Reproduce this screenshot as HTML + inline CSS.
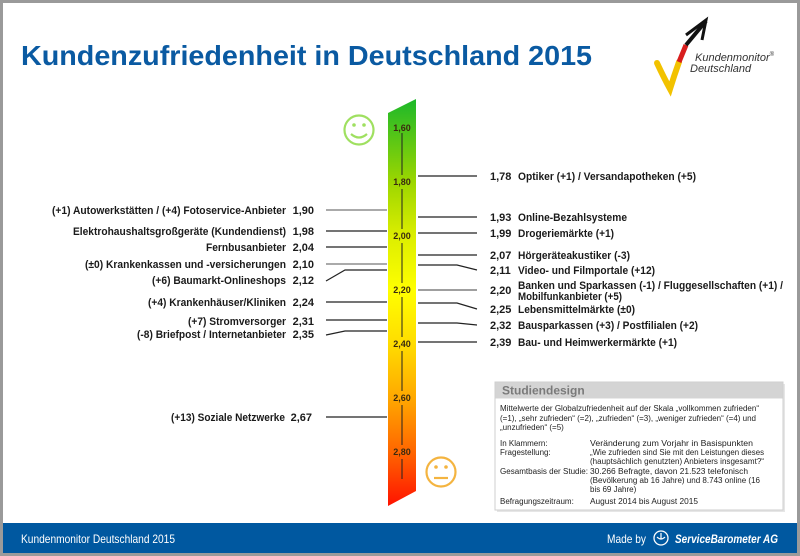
<!DOCTYPE html>
<html><head><meta charset="utf-8"><style>
html,body{margin:0;padding:0;background:#fff;}
svg{display:block;}
text{font-family:"Liberation Sans",Arial,sans-serif;}
.l{font-size:11px;font-weight:bold;fill:#1a1a1a;}
.t{font-size:9px;font-weight:bold;fill:#3a2a10;}
.s{font-size:8px;fill:#222;}
</style></head><body>
<svg width="800" height="556" viewBox="0 0 800 556" xmlns="http://www.w3.org/2000/svg">
<defs>
<linearGradient id="g" gradientUnits="userSpaceOnUse" x1="0" y1="99" x2="0" y2="506">
<stop offset="0" stop-color="#1cb82a"/>
<stop offset="0.204" stop-color="#9cd600"/>
<stop offset="0.337" stop-color="#dcee00"/>
<stop offset="0.469" stop-color="#ffff00"/>
<stop offset="0.602" stop-color="#ffdc00"/>
<stop offset="0.735" stop-color="#ffa800"/>
<stop offset="0.867" stop-color="#ff6600"/>
<stop offset="1" stop-color="#ff1200"/>
</linearGradient>
</defs>
<rect x="0" y="0" width="800" height="556" fill="#9a9a9a"/>
<rect x="3" y="3" width="794" height="550" fill="#fff"/>
<!-- footer -->
<rect x="3" y="523" width="794" height="30" fill="#0058a0"/>
<text x="21" y="543" font-size="12" fill="#fff" textLength="154" lengthAdjust="spacingAndGlyphs">Kundenmonitor Deutschland 2015</text>
<text x="607" y="543" font-size="12" fill="#fff" textLength="39" lengthAdjust="spacingAndGlyphs">Made by</text>
<circle cx="661" cy="538" r="7" fill="none" stroke="#fff" stroke-width="1.3"/>
<path d="M657 537 q4 4 8 0 M661 533 v6" stroke="#fff" stroke-width="1.2" fill="none"/>
<text x="675" y="543" font-size="12" font-weight="bold" font-style="italic" fill="#fff" textLength="103" lengthAdjust="spacingAndGlyphs">ServiceBarometer AG</text>
<!-- title -->
<text x="21" y="65" font-size="28" font-weight="bold" fill="#0a5aa2" textLength="571" lengthAdjust="spacingAndGlyphs">Kundenzufriedenheit in Deutschland 2015</text>
<!-- logo -->
<path d="M657 63 Q664 78 670 89 Q674 76 679 62" stroke="#f2c200" stroke-width="6" fill="none" stroke-linecap="round"/>
<path d="M679 62 L686 45" stroke="#d81e1e" stroke-width="5" fill="none"/>
<path d="M686 45 L706 21" stroke="#111" stroke-width="4" fill="none"/>
<path d="M686 35 L706 20 L702 40" stroke="#111" stroke-width="3" fill="none"/>
<text x="695" y="61" font-size="11" font-style="italic" fill="#333">Kundenmonitor<tspan font-size="6" dy="-5">®</tspan></text>
<text x="690" y="72" font-size="11" font-style="italic" fill="#333">Deutschland</text>
<!-- bar -->
<polygon points="388,113 416,99 416,491 388,506" fill="url(#g)"/>
<g stroke="#222" stroke-width="1">
<line x1="402" y1="133" x2="402" y2="175"/>
<line x1="402" y1="189" x2="402" y2="229"/>
<line x1="402" y1="243" x2="402" y2="283"/>
<line x1="402" y1="297" x2="402" y2="337"/>
<line x1="402" y1="351" x2="402" y2="391"/>
<line x1="402" y1="405" x2="402" y2="445"/>
<line x1="402" y1="459" x2="402" y2="479"/>
</g>
<g class="t" text-anchor="middle">
<text x="402" y="131">1,60</text>
<text x="402" y="185">1,80</text>
<text x="402" y="239">2,00</text>
<text x="402" y="293">2,20</text>
<text x="402" y="347">2,40</text>
<text x="402" y="401">2,60</text>
<text x="402" y="455">2,80</text>
</g>
<!-- smileys -->
<g fill="none" stroke="#9fe060" stroke-width="2.2">
<circle cx="359" cy="130" r="14.5"/>
<path d="M351 134 q8 7 16 0"/>
</g>
<circle cx="354" cy="125" r="1.8" fill="#9fe060"/><circle cx="364" cy="125" r="1.8" fill="#9fe060"/>
<g fill="none" stroke="#f4b440" stroke-width="2.2">
<circle cx="441" cy="472" r="14.5"/>
<line x1="434" y1="478" x2="448" y2="478"/>
</g>
<circle cx="436" cy="467" r="1.8" fill="#f4b440"/><circle cx="446" cy="467" r="1.8" fill="#f4b440"/>
<!-- left lines -->
<g stroke="#222" stroke-width="1.2" fill="none">
<line x1="326" y1="210" x2="387" y2="210" stroke="#777"/>
<line x1="326" y1="231" x2="387" y2="231"/>
<line x1="326" y1="247" x2="387" y2="247"/>
<line x1="326" y1="264" x2="387" y2="264" stroke="#777"/>
<polyline points="326,281 345,270 387,270"/>
<line x1="326" y1="302" x2="387" y2="302"/>
<line x1="326" y1="320" x2="387" y2="320"/>
<polyline points="326,335 345,331 387,331"/>
<line x1="326" y1="417" x2="387" y2="417"/>
</g>
<g class="l" text-anchor="end">
<text x="286" y="214" textLength="234" lengthAdjust="spacingAndGlyphs">(+1) Autowerkstätten / (+4) Fotoservice-Anbieter</text>
<text x="286" y="235" textLength="213" lengthAdjust="spacingAndGlyphs">Elektrohaushaltsgroßgeräte (Kundendienst)</text>
<text x="286" y="251" textLength="80" lengthAdjust="spacingAndGlyphs">Fernbusanbieter</text>
<text x="286" y="268" textLength="201" lengthAdjust="spacingAndGlyphs">(±0) Krankenkassen und -versicherungen</text>
<text x="286" y="284" textLength="134" lengthAdjust="spacingAndGlyphs">(+6) Baumarkt-Onlineshops</text>
<text x="286" y="306" textLength="138" lengthAdjust="spacingAndGlyphs">(+4) Krankenhäuser/Kliniken</text>
<text x="286" y="325" textLength="98" lengthAdjust="spacingAndGlyphs">(+7) Stromversorger</text>
<text x="286" y="338" textLength="149" lengthAdjust="spacingAndGlyphs">(-8) Briefpost / Internetanbieter</text>
<text x="285" y="421" textLength="114" lengthAdjust="spacingAndGlyphs">(+13) Soziale Netzwerke</text>
<text x="314" y="214">1,90</text>
<text x="314" y="235">1,98</text>
<text x="314" y="251">2,04</text>
<text x="314" y="268">2,10</text>
<text x="314" y="284">2,12</text>
<text x="314" y="306">2,24</text>
<text x="314" y="325">2,31</text>
<text x="314" y="338">2,35</text>
<text x="312" y="421">2,67</text>
</g>
<!-- right lines -->
<g stroke="#222" stroke-width="1.2" fill="none">
<line x1="418" y1="176" x2="477" y2="176"/>
<line x1="418" y1="217" x2="477" y2="217"/>
<line x1="418" y1="233" x2="477" y2="233"/>
<line x1="418" y1="255" x2="477" y2="255"/>
<polyline points="418,265 457,265 477,270"/>
<line x1="418" y1="290" x2="477" y2="290" stroke="#666"/>
<polyline points="418,303 457,303 477,309"/>
<polyline points="418,323 457,323 477,325"/>
<line x1="418" y1="342" x2="477" y2="342"/>
</g>
<g class="l">
<text x="490" y="180">1,78</text>
<text x="490" y="221">1,93</text>
<text x="490" y="237">1,99</text>
<text x="490" y="259">2,07</text>
<text x="490" y="274">2,11</text>
<text x="490" y="294">2,20</text>
<text x="490" y="313">2,25</text>
<text x="490" y="329">2,32</text>
<text x="490" y="346">2,39</text>
<text x="518" y="180" textLength="178" lengthAdjust="spacingAndGlyphs">Optiker (+1) / Versandapotheken (+5)</text>
<text x="518" y="221" textLength="109" lengthAdjust="spacingAndGlyphs">Online-Bezahlsysteme</text>
<text x="518" y="237" textLength="96" lengthAdjust="spacingAndGlyphs">Drogeriemärkte (+1)</text>
<text x="518" y="259" textLength="112" lengthAdjust="spacingAndGlyphs">Hörgeräteakustiker (-3)</text>
<text x="518" y="274" textLength="137" lengthAdjust="spacingAndGlyphs">Video- und Filmportale (+12)</text>
<text x="518" y="289" textLength="265" lengthAdjust="spacingAndGlyphs">Banken und Sparkassen (-1) / Fluggesellschaften (+1) /</text>
<text x="518" y="300" textLength="104" lengthAdjust="spacingAndGlyphs">Mobilfunkanbieter (+5)</text>
<text x="518" y="313" textLength="117" lengthAdjust="spacingAndGlyphs">Lebensmittelmärkte (±0)</text>
<text x="518" y="329" textLength="180" lengthAdjust="spacingAndGlyphs">Bausparkassen (+3) / Postfilialen (+2)</text>
<text x="518" y="346" textLength="159" lengthAdjust="spacingAndGlyphs">Bau- und Heimwerkermärkte (+1)</text>
</g>
<!-- Studiendesign box -->
<rect x="497" y="384" width="288" height="128" fill="#e6e6e6"/>
<rect x="495" y="382" width="288" height="128" fill="#fff" stroke="#cfcfcf" stroke-width="1"/>
<rect x="495.5" y="382.5" width="287" height="16" fill="#d4d4d4"/>
<text x="502" y="394.5" font-size="12" font-weight="bold" fill="#7a7a7a">Studiendesign</text>
<g class="s">
<text x="500" y="411" textLength="259" lengthAdjust="spacingAndGlyphs">Mittelwerte der Globalzufriedenheit auf der Skala „vollkommen zufrieden“</text>
<text x="500" y="421" textLength="256" lengthAdjust="spacingAndGlyphs">(=1), „sehr zufrieden“ (=2), „zufrieden“ (=3), „weniger zufrieden“ (=4) und</text>
<text x="500" y="430">„unzufrieden“ (=5)</text>
<text x="500" y="446">In Klammern:</text>
<text x="590" y="446" textLength="163" lengthAdjust="spacingAndGlyphs">Veränderung zum Vorjahr in Basispunkten</text>
<text x="500" y="455">Fragestellung:</text>
<text x="590" y="455" textLength="174" lengthAdjust="spacingAndGlyphs">„Wie zufrieden sind Sie mit den Leistungen dieses</text>
<text x="590" y="464" textLength="174" lengthAdjust="spacingAndGlyphs">(hauptsächlich genutzten) Anbieters insgesamt?“</text>
<text x="500" y="474" textLength="88" lengthAdjust="spacingAndGlyphs">Gesamtbasis der Studie:</text>
<text x="590" y="474" textLength="158" lengthAdjust="spacingAndGlyphs">30.266 Befragte, davon 21.523 telefonisch</text>
<text x="590" y="483" textLength="170" lengthAdjust="spacingAndGlyphs">(Bevölkerung ab 16 Jahre) und 8.743 online (16</text>
<text x="590" y="492">bis 69 Jahre)</text>
<text x="500" y="504">Befragungszeitraum:</text>
<text x="590" y="504" textLength="108" lengthAdjust="spacingAndGlyphs">August 2014 bis August 2015</text>
</g>
</svg>
</body></html>
